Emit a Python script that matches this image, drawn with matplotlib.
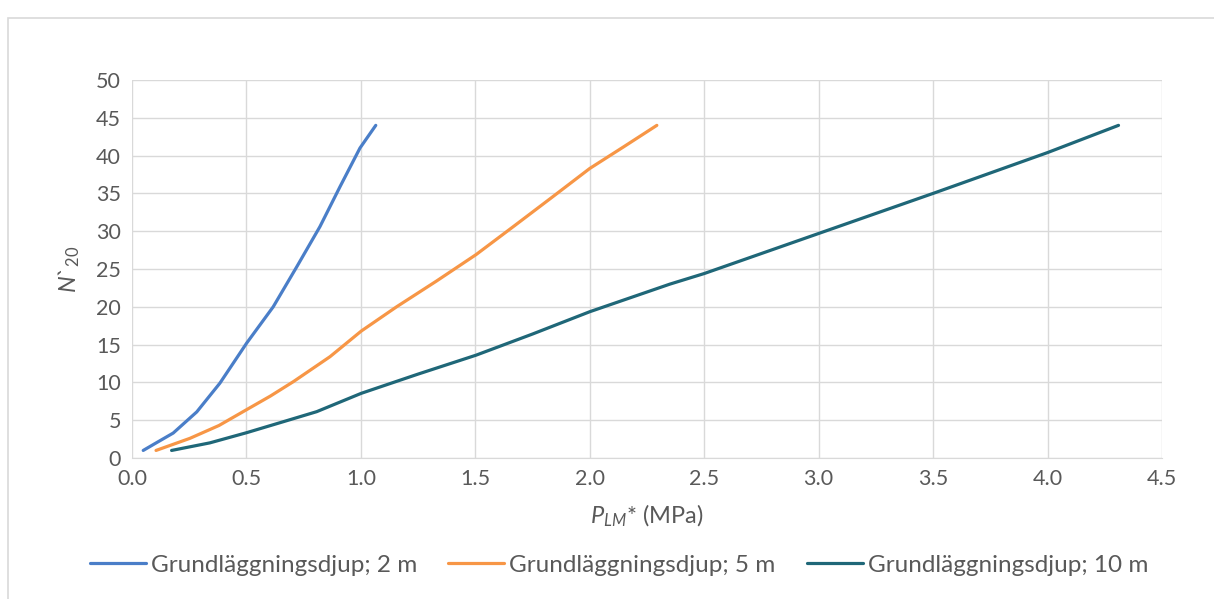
import matplotlib
matplotlib.use("Agg")
import matplotlib.pyplot as plt
from matplotlib.patches import Rectangle

plt.rcParams['font.family'] = ['Lato', 'DejaVu Sans']
plt.rcParams['mathtext.fontset'] = 'custom'
plt.rcParams['mathtext.it'] = 'Lato:italic'
plt.rcParams['mathtext.rm'] = 'Lato'

labels = ["Grundläggningsdjup; 2 m", "Grundläggningsdjup; 5 m", "Grundläggningsdjup; 10 m"]

x_2m = [0.049, 0.1, 0.18, 0.283, 0.384, 0.501, 0.617, 0.72, 0.821, 0.909, 0.996, 1.065]
y_2m = [1.0, 1.9, 3.3, 6.1, 9.9, 15.2, 20.0, 25.3, 30.6, 35.9, 41.0, 44.0]

x_5m = [0.105, 0.253, 0.38, 0.501, 0.605, 0.705, 0.865, 1.002, 1.156, 1.33, 1.503, 1.67, 1.84, 2.0, 2.15, 2.293]
y_5m = [1.0, 2.6, 4.3, 6.4, 8.2, 10.1, 13.4, 16.8, 20.0, 23.4, 26.9, 30.7, 34.6, 38.3, 41.2, 44.0]

x_10m = [0.173, 0.34, 0.501, 0.65, 0.807, 1.002, 1.25, 1.503, 1.75, 2.0, 2.35, 2.5, 3.0, 3.5, 4.0, 4.31]
y_10m = [1.0, 2.0, 3.35, 4.7, 6.13, 8.56, 11.1, 13.6, 16.4, 19.35, 23.0, 24.4, 29.7, 35.0, 40.4, 44.0]

colors = ['#4A7EC8', '#F79646', '#1F6778']

fig = plt.figure(figsize=(12.14, 5.99), dpi=100)
fig.patches.append(Rectangle((8/1214, -0.1), 1.2, (590-9)/599 + 0.1, transform=fig.transFigure,
                             fill=False, edgecolor='#D9D9D9', linewidth=1.2))
ax = fig.add_axes([132/1214, (599-458)/599, (1162-132)/1214, (458-80)/599])

for xs, ys, c, lab in zip([x_2m, x_5m, x_10m], [y_2m, y_5m, y_10m], colors, labels):
    ax.plot(xs, ys, color=c, linewidth=2.3, label=lab, solid_capstyle='round', solid_joinstyle='round')

ax.set_xlim(0, 4.5)
ax.set_ylim(0, 50)
ax.set_xticks([i * 0.5 for i in range(10)])
ax.set_xticklabels([f"{i*0.5:.1f}" for i in range(10)])
ax.set_yticks(range(0, 51, 5))
ax.grid(True, color='#D9D9D9', linewidth=1)
ax.set_axisbelow(True)
for s in ['top', 'right', 'left']:
    ax.spines[s].set_visible(False)
ax.spines['bottom'].set_color('#D9D9D9')
ax.tick_params(length=0, labelsize=15.5, colors='#595959', pad=8)

ax.set_xlabel(r"$P_{LM}$* (MPa)", fontsize=17, color='#595959', labelpad=10)
ax.set_ylabel(r"$N$`$_{20}$", fontsize=17, color='#595959', labelpad=10)

leg = fig.legend(loc='center', bbox_to_anchor=(619/1214, (599-565)/599), ncol=3, frameon=False,
                 fontsize=17.5, handlelength=2.3, handletextpad=0.2, columnspacing=1.3)
for t in leg.get_texts():
    t.set_color('#595959')

fig.savefig("out.png", dpi=100)
